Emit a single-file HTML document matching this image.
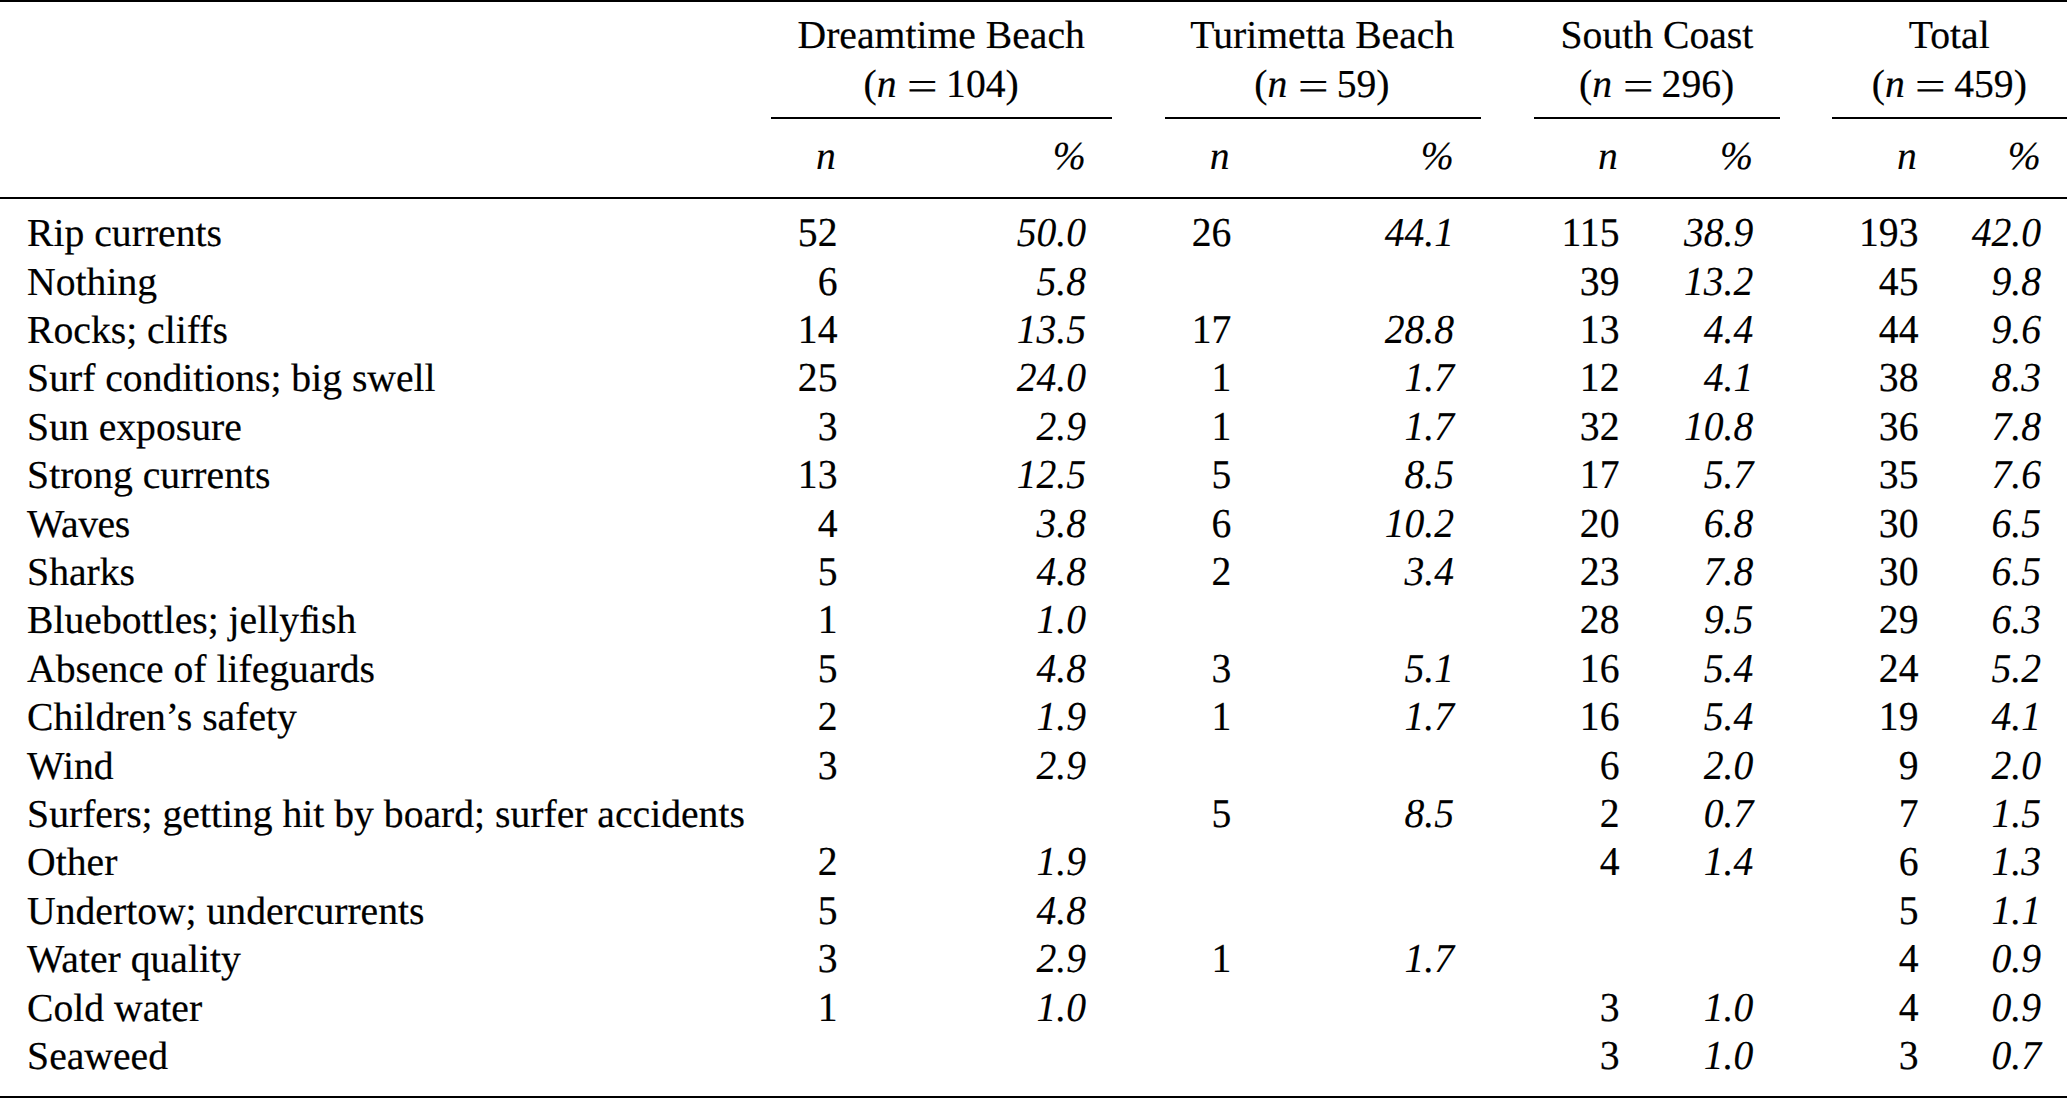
<!DOCTYPE html>
<html lang="en"><head><meta charset="utf-8"><title>Beach hazards table</title>
<style>
html,body{margin:0;padding:0;background:#fff;}
body{width:2067px;height:1098px;position:relative;overflow:hidden;font-family:"Liberation Serif",serif;font-size:39.65px;color:#000;}
table,thead,tbody{display:block;margin:0;padding:0;border:0;}
tr{display:block;position:absolute;left:0;width:2067px;height:39.65px;}
th,td{display:block;position:absolute;top:0;padding:0;margin:0;font-weight:normal;white-space:nowrap;line-height:1;text-rendering:geometricPrecision;-webkit-text-stroke:0.2px #000;}
.i{font-style:italic;-webkit-text-stroke-width:0.1px;}
td.n{transform:scaleY(1.035);transform-origin:0 33.21px;}
.eq{display:inline-block;-webkit-text-stroke:0;transform:translateY(2.6px) scale(1.39,1.05);margin:0 12.5px 0 14.6px;}
.fi{margin-left:-2.2px;}
.r{position:absolute;background:#000;}
</style></head><body>
<div class="r" style="left:0px;width:2067px;top:-0.60px;height:2.2px"></div>
<div class="r" style="left:0px;width:2067px;top:197.10px;height:2.2px"></div>
<div class="r" style="left:0px;width:2067px;top:1096.00px;height:2.4px"></div>
<div class="r" style="left:771.2px;width:340.4px;top:117.40px;height:1.6px"></div>
<div class="r" style="left:1164.5px;width:316.5px;top:117.40px;height:1.6px"></div>
<div class="r" style="left:1534px;width:245.6px;top:117.40px;height:1.6px"></div>
<div class="r" style="left:1832.4px;width:234.6px;top:117.40px;height:1.6px"></div>
<table>
<thead>
<tr style="top:16.29px"><th style="left:0.00px;"></th><th colspan="2" style="left:541.20px;width:800px;text-align:center;">Dreamtime Beach</th><th colspan="2" style="left:922.30px;width:800px;text-align:center;">Turimetta Beach</th><th colspan="2" style="left:1256.90px;width:800px;text-align:center;">South Coast</th><th colspan="2" style="left:1549.30px;width:800px;text-align:center;">Total</th></tr>
<tr style="top:64.79px"><th style="left:0.00px;"></th><th colspan="2" style="left:541.20px;width:800px;text-align:center;">(<i>n</i><span class="eq">=</span>104)</th><th colspan="2" style="left:921.90px;width:800px;text-align:center;">(<i>n</i><span class="eq">=</span>59)</th><th colspan="2" style="left:1256.70px;width:800px;text-align:center;">(<i>n</i><span class="eq">=</span>296)</th><th colspan="2" style="left:1549.30px;width:800px;text-align:center;">(<i>n</i><span class="eq">=</span>459)</th></tr>
<tr style="top:137.09px"><th style="left:0.00px;"></th><th class="i" style="right:1231.20px;">n</th><th class="i" style="right:981.30px;">%</th><th class="i" style="right:837.40px;">n</th><th class="i" style="right:613.30px;">%</th><th class="i" style="right:449.20px;">n</th><th class="i" style="right:314.00px;">%</th><th class="i" style="right:150.20px;">n</th><th class="i" style="right:26.30px;">%</th></tr>
</thead>
<tbody>
<tr style="top:214.29px"><td style="left:27.10px;">Rip currents</td><td class="n" style="right:1229.50px;">52</td><td class="n i" style="right:981.00px;">50.0</td><td class="n" style="right:835.70px;">26</td><td class="n i" style="right:613.00px;">44.1</td><td class="n" style="right:447.50px;">115</td><td class="n i" style="right:313.70px;">38.9</td><td class="n" style="right:148.50px;">193</td><td class="n i" style="right:26.00px;">42.0</td></tr>
<tr style="top:262.68px"><td style="left:27.10px;">Nothing</td><td class="n" style="right:1229.50px;">6</td><td class="n i" style="right:981.00px;">5.8</td><td class="n" style="right:835.70px;"></td><td class="n i" style="right:613.00px;"></td><td class="n" style="right:447.50px;">39</td><td class="n i" style="right:313.70px;">13.2</td><td class="n" style="right:148.50px;">45</td><td class="n i" style="right:26.00px;">9.8</td></tr>
<tr style="top:311.07px"><td style="left:27.10px;">Rocks; cliffs</td><td class="n" style="right:1229.50px;">14</td><td class="n i" style="right:981.00px;">13.5</td><td class="n" style="right:835.70px;">17</td><td class="n i" style="right:613.00px;">28.8</td><td class="n" style="right:447.50px;">13</td><td class="n i" style="right:313.70px;">4.4</td><td class="n" style="right:148.50px;">44</td><td class="n i" style="right:26.00px;">9.6</td></tr>
<tr style="top:359.46px"><td style="left:27.10px;">Surf conditions; big swell</td><td class="n" style="right:1229.50px;">25</td><td class="n i" style="right:981.00px;">24.0</td><td class="n" style="right:835.70px;">1</td><td class="n i" style="right:613.00px;">1.7</td><td class="n" style="right:447.50px;">12</td><td class="n i" style="right:313.70px;">4.1</td><td class="n" style="right:148.50px;">38</td><td class="n i" style="right:26.00px;">8.3</td></tr>
<tr style="top:407.85px"><td style="left:27.10px;">Sun exposure</td><td class="n" style="right:1229.50px;">3</td><td class="n i" style="right:981.00px;">2.9</td><td class="n" style="right:835.70px;">1</td><td class="n i" style="right:613.00px;">1.7</td><td class="n" style="right:447.50px;">32</td><td class="n i" style="right:313.70px;">10.8</td><td class="n" style="right:148.50px;">36</td><td class="n i" style="right:26.00px;">7.8</td></tr>
<tr style="top:456.24px"><td style="left:27.10px;">Strong currents</td><td class="n" style="right:1229.50px;">13</td><td class="n i" style="right:981.00px;">12.5</td><td class="n" style="right:835.70px;">5</td><td class="n i" style="right:613.00px;">8.5</td><td class="n" style="right:447.50px;">17</td><td class="n i" style="right:313.70px;">5.7</td><td class="n" style="right:148.50px;">35</td><td class="n i" style="right:26.00px;">7.6</td></tr>
<tr style="top:504.63px"><td style="left:27.10px;"><span style="letter-spacing:-0.4px">Waves</span></td><td class="n" style="right:1229.50px;">4</td><td class="n i" style="right:981.00px;">3.8</td><td class="n" style="right:835.70px;">6</td><td class="n i" style="right:613.00px;">10.2</td><td class="n" style="right:447.50px;">20</td><td class="n i" style="right:313.70px;">6.8</td><td class="n" style="right:148.50px;">30</td><td class="n i" style="right:26.00px;">6.5</td></tr>
<tr style="top:553.02px"><td style="left:27.10px;">Sharks</td><td class="n" style="right:1229.50px;">5</td><td class="n i" style="right:981.00px;">4.8</td><td class="n" style="right:835.70px;">2</td><td class="n i" style="right:613.00px;">3.4</td><td class="n" style="right:447.50px;">23</td><td class="n i" style="right:313.70px;">7.8</td><td class="n" style="right:148.50px;">30</td><td class="n i" style="right:26.00px;">6.5</td></tr>
<tr style="top:601.41px"><td style="left:27.10px;">Bluebottles; jellyf<span class="fi">ish</span></td><td class="n" style="right:1229.50px;">1</td><td class="n i" style="right:981.00px;">1.0</td><td class="n" style="right:835.70px;"></td><td class="n i" style="right:613.00px;"></td><td class="n" style="right:447.50px;">28</td><td class="n i" style="right:313.70px;">9.5</td><td class="n" style="right:148.50px;">29</td><td class="n i" style="right:26.00px;">6.3</td></tr>
<tr style="top:649.80px"><td style="left:27.10px;">Absence of lifeguards</td><td class="n" style="right:1229.50px;">5</td><td class="n i" style="right:981.00px;">4.8</td><td class="n" style="right:835.70px;">3</td><td class="n i" style="right:613.00px;">5.1</td><td class="n" style="right:447.50px;">16</td><td class="n i" style="right:313.70px;">5.4</td><td class="n" style="right:148.50px;">24</td><td class="n i" style="right:26.00px;">5.2</td></tr>
<tr style="top:698.19px"><td style="left:27.10px;">Children’s safety</td><td class="n" style="right:1229.50px;">2</td><td class="n i" style="right:981.00px;">1.9</td><td class="n" style="right:835.70px;">1</td><td class="n i" style="right:613.00px;">1.7</td><td class="n" style="right:447.50px;">16</td><td class="n i" style="right:313.70px;">5.4</td><td class="n" style="right:148.50px;">19</td><td class="n i" style="right:26.00px;">4.1</td></tr>
<tr style="top:746.58px"><td style="left:27.10px;">Wind</td><td class="n" style="right:1229.50px;">3</td><td class="n i" style="right:981.00px;">2.9</td><td class="n" style="right:835.70px;"></td><td class="n i" style="right:613.00px;"></td><td class="n" style="right:447.50px;">6</td><td class="n i" style="right:313.70px;">2.0</td><td class="n" style="right:148.50px;">9</td><td class="n i" style="right:26.00px;">2.0</td></tr>
<tr style="top:794.97px"><td style="left:27.10px;">Surfers; getting hit by board; surfer accidents</td><td class="n" style="right:1229.50px;"></td><td class="n i" style="right:981.00px;"></td><td class="n" style="right:835.70px;">5</td><td class="n i" style="right:613.00px;">8.5</td><td class="n" style="right:447.50px;">2</td><td class="n i" style="right:313.70px;">0.7</td><td class="n" style="right:148.50px;">7</td><td class="n i" style="right:26.00px;">1.5</td></tr>
<tr style="top:843.36px"><td style="left:27.10px;">Other</td><td class="n" style="right:1229.50px;">2</td><td class="n i" style="right:981.00px;">1.9</td><td class="n" style="right:835.70px;"></td><td class="n i" style="right:613.00px;"></td><td class="n" style="right:447.50px;">4</td><td class="n i" style="right:313.70px;">1.4</td><td class="n" style="right:148.50px;">6</td><td class="n i" style="right:26.00px;">1.3</td></tr>
<tr style="top:891.75px"><td style="left:27.10px;">Undertow; undercurrents</td><td class="n" style="right:1229.50px;">5</td><td class="n i" style="right:981.00px;">4.8</td><td class="n" style="right:835.70px;"></td><td class="n i" style="right:613.00px;"></td><td class="n" style="right:447.50px;"></td><td class="n i" style="right:313.70px;"></td><td class="n" style="right:148.50px;">5</td><td class="n i" style="right:26.00px;">1.1</td></tr>
<tr style="top:940.14px"><td style="left:27.10px;">Water quality</td><td class="n" style="right:1229.50px;">3</td><td class="n i" style="right:981.00px;">2.9</td><td class="n" style="right:835.70px;">1</td><td class="n i" style="right:613.00px;">1.7</td><td class="n" style="right:447.50px;"></td><td class="n i" style="right:313.70px;"></td><td class="n" style="right:148.50px;">4</td><td class="n i" style="right:26.00px;">0.9</td></tr>
<tr style="top:988.53px"><td style="left:27.10px;">Cold water</td><td class="n" style="right:1229.50px;">1</td><td class="n i" style="right:981.00px;">1.0</td><td class="n" style="right:835.70px;"></td><td class="n i" style="right:613.00px;"></td><td class="n" style="right:447.50px;">3</td><td class="n i" style="right:313.70px;">1.0</td><td class="n" style="right:148.50px;">4</td><td class="n i" style="right:26.00px;">0.9</td></tr>
<tr style="top:1036.92px"><td style="left:27.10px;">Seaweed</td><td class="n" style="right:1229.50px;"></td><td class="n i" style="right:981.00px;"></td><td class="n" style="right:835.70px;"></td><td class="n i" style="right:613.00px;"></td><td class="n" style="right:447.50px;">3</td><td class="n i" style="right:313.70px;">1.0</td><td class="n" style="right:148.50px;">3</td><td class="n i" style="right:26.00px;">0.7</td></tr>
</tbody>
</table>
</body></html>
